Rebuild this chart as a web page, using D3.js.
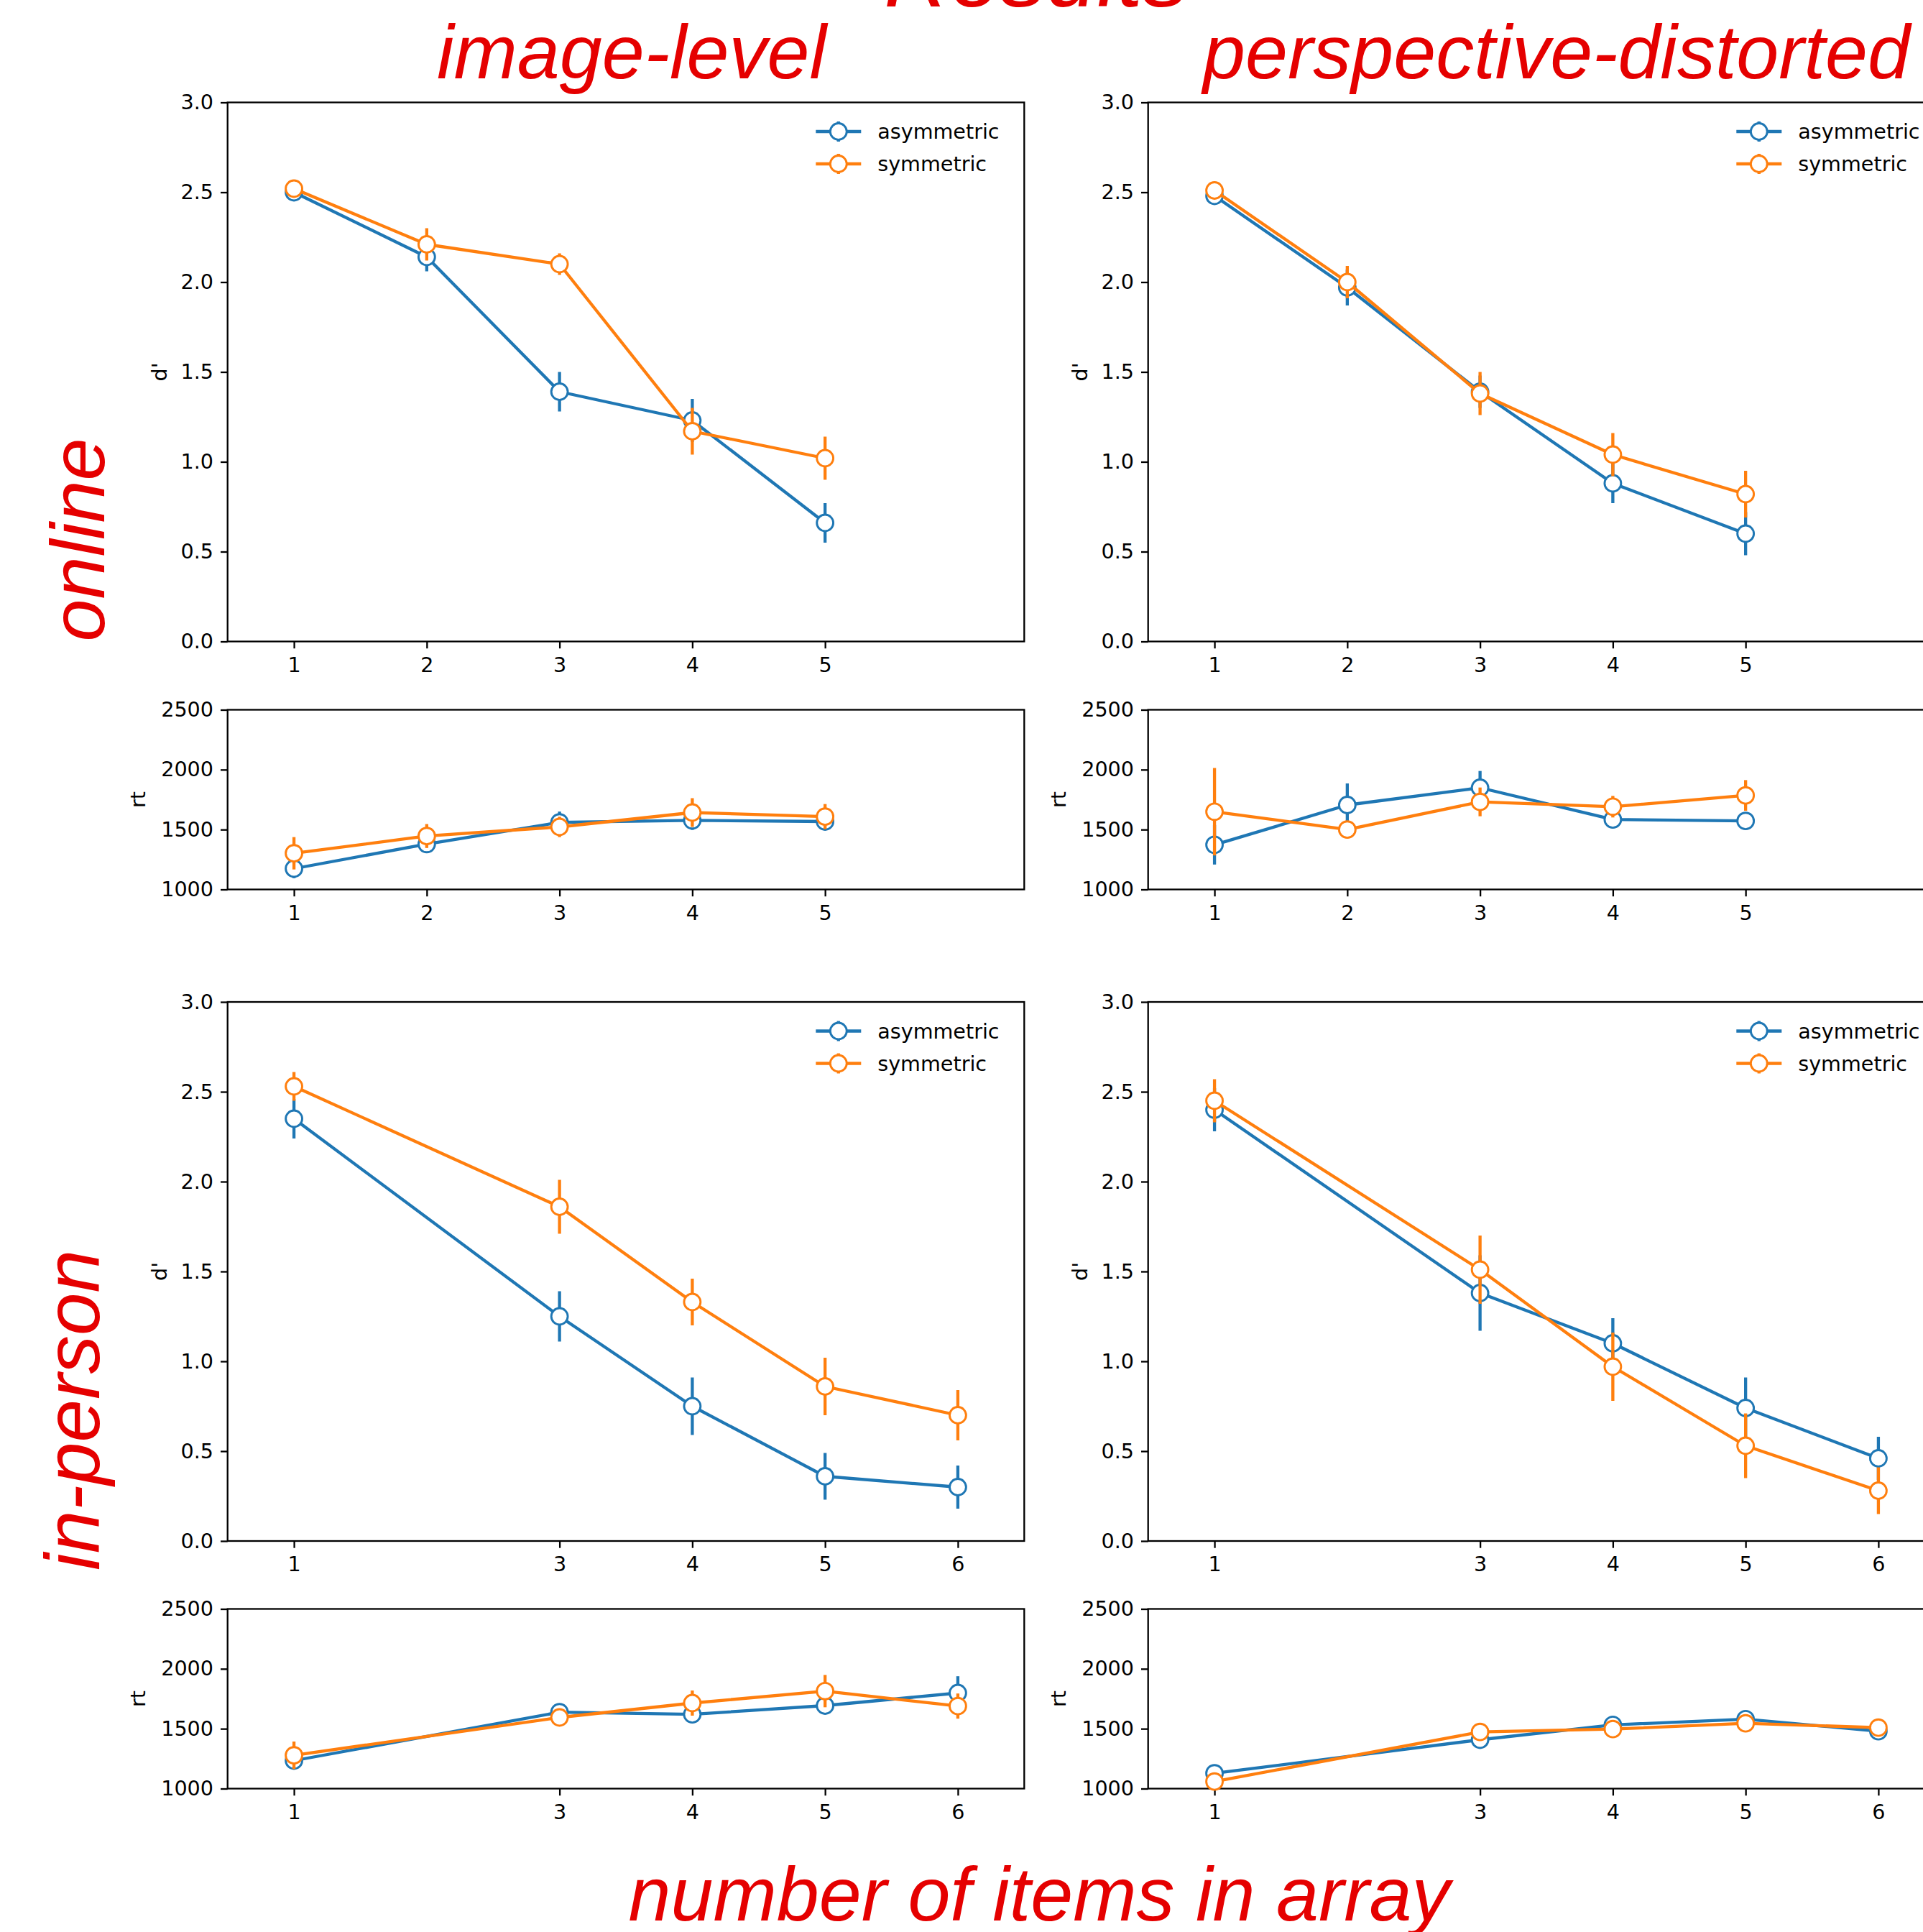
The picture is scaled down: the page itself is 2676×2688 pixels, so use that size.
<!DOCTYPE html>
<html lang="en">
<head>
<meta charset="UTF-8">
<title>Results</title>
<script src="https://cdn.jsdelivr.net/npm/d3@7"></script>
<style>
  body { margin: 0; background: #fff; }
  svg { display: block; }
  .tick text { font-family: "DejaVu Sans", sans-serif; }
</style>
</head>
<body>
<script>
// categories
var nOnline = [1, 2, 3, 4, 5];
var nInPerson = [1, 3, 4, 5, 6];
var seriesNames = ["asymmetric", "symmetric"];
var dTicks = [0, 0.5, 1, 1.5, 2, 2.5, 3];
var rtTicks = [1000, 1500, 2000, 2500];

// online / image-level
var dImgOnAsym = [2.50, 2.14, 1.39, 1.23, 0.66];
var dImgOnAsymErr = [0.04, 0.08, 0.11, 0.12, 0.11];
var dImgOnSym = [2.52, 2.21, 2.10, 1.17, 1.02];
var dImgOnSymErr = [0.03, 0.09, 0.06, 0.13, 0.12];
var rtImgOnAsym = [1174, 1379, 1560, 1577, 1567];
var rtImgOnAsymErr = [80, 70, 90, 80, 70];
var rtImgOnSym = [1302, 1446, 1522, 1642, 1608];
var rtImgOnSymErr = [135, 100, 85, 120, 105];

// online / perspective-distorted
var dPerOnAsym = [2.48, 1.97, 1.39, 0.88, 0.60];
var dPerOnAsymErr = [0.04, 0.10, 0.09, 0.11, 0.12];
var dPerOnSym = [2.51, 2.00, 1.38, 1.04, 0.82];
var dPerOnSymErr = [0.03, 0.09, 0.12, 0.12, 0.13];
var rtPerOnAsym = [1373, 1705, 1849, 1584, 1572];
var rtPerOnAsymErr = [165, 180, 140, 30, 30];
var rtPerOnSym = [1649, 1500, 1731, 1691, 1785];
var rtPerOnSymErr = [365, 30, 120, 90, 128];

// in-person / image-level
var dImgInAsym = [2.35, 1.25, 0.75, 0.36, 0.30];
var dImgInAsymErr = [0.11, 0.14, 0.16, 0.13, 0.12];
var dImgInSym = [2.53, 1.86, 1.33, 0.86, 0.70];
var dImgInSymErr = [0.08, 0.15, 0.13, 0.16, 0.14];
var rtImgInAsym = [1234, 1638, 1620, 1693, 1798];
var rtImgInAsymErr = [45, 45, 40, 45, 140];
var rtImgInSym = [1278, 1594, 1714, 1814, 1689];
var rtImgInSymErr = [115, 45, 105, 135, 105];

// in-person / perspective-distorted
var dPerInAsym = [2.40, 1.38, 1.10, 0.74, 0.46];
var dPerInAsymErr = [0.12, 0.21, 0.14, 0.17, 0.12];
var dPerInSym = [2.45, 1.51, 0.97, 0.53, 0.28];
var dPerInSymErr = [0.12, 0.19, 0.19, 0.18, 0.13];
var rtPerInAsym = [1128, 1408, 1532, 1580, 1479];
var rtPerInAsymErr = [30, 40, 70, 35, 30];
var rtPerInSym = [1059, 1473, 1497, 1545, 1509];
var rtPerInSymErr = [30, 35, 45, 40, 30];

var colors = ["#1f77b4", "#ff7f0e"];
var red = "#e50000";

var nw = 2676, nh = 2688;
var colLeft = [316.7, 1597.7];
var pw = 1108.6;
var rowTop = { d0: 142.5, rt0: 987.5, d1: 1394, rt1: 2238.5 };

var svg = d3.select("body").append("svg")
    .attr("width", nw)
    .attr("height", nh);

function pack(ns, vals, errs) {
    return ns.map(function (n, i) { return { n: n, v: vals[i], e: errs[i] }; });
}

var panels = [
    { col: 0, top: rowTop.d0, kind: "d", ns: nOnline,
      s: [[dImgOnAsym, dImgOnAsymErr], [dImgOnSym, dImgOnSymErr]] },
    { col: 0, top: rowTop.rt0, kind: "rt", ns: nOnline,
      s: [[rtImgOnAsym, rtImgOnAsymErr], [rtImgOnSym, rtImgOnSymErr]] },
    { col: 1, top: rowTop.d0, kind: "d", ns: nOnline,
      s: [[dPerOnAsym, dPerOnAsymErr], [dPerOnSym, dPerOnSymErr]] },
    { col: 1, top: rowTop.rt0, kind: "rt", ns: nOnline,
      s: [[rtPerOnAsym, rtPerOnAsymErr], [rtPerOnSym, rtPerOnSymErr]] },
    { col: 0, top: rowTop.d1, kind: "d", ns: nInPerson,
      s: [[dImgInAsym, dImgInAsymErr], [dImgInSym, dImgInSymErr]] },
    { col: 0, top: rowTop.rt1, kind: "rt", ns: nInPerson,
      s: [[rtImgInAsym, rtImgInAsymErr], [rtImgInSym, rtImgInSymErr]] },
    { col: 1, top: rowTop.d1, kind: "d", ns: nInPerson,
      s: [[dPerInAsym, dPerInAsymErr], [dPerInSym, dPerInSymErr]] },
    { col: 1, top: rowTop.rt1, kind: "rt", ns: nInPerson,
      s: [[rtPerInAsym, rtPerInAsymErr], [rtPerInSym, rtPerInSymErr]] }
];

var fontSize = 28.6, lw = 4.3, spineW = 2.3, tickLen = 9.7, markR = 11.45, markW = 2.9;

panels.forEach(function (p) {
    var h = p.kind === "d" ? 750 : 250;
    var x = d3.scaleLinear().domain([0.5, 6.5]).range([0, pw]);
    var y = p.kind === "d"
        ? d3.scaleLinear().domain([0, 3]).range([h, 0])
        : d3.scaleLinear().domain([1000, 2500]).range([h, 0]);

    var g = svg.append("g")
        .attr("transform", "translate(" + colLeft[p.col] + "," + p.top + ")");

    // axes
    var xaxis = d3.axisBottom(x).tickValues(p.ns).tickFormat(d3.format("d"))
        .tickSize(tickLen).tickSizeOuter(0).tickPadding(12);
    var yaxis = d3.axisLeft(y)
        .tickValues(p.kind === "d" ? dTicks : rtTicks)
        .tickFormat(p.kind === "d" ? d3.format(".1f") : d3.format("d"))
        .tickSize(tickLen).tickSizeOuter(0).tickPadding(10);

    [g.append("g").attr("transform", "translate(0," + h + ")").call(xaxis),
     g.append("g").call(yaxis)].forEach(function (ax) {
        ax.select(".domain").remove();
        ax.selectAll(".tick line").attr("stroke", "#000").attr("stroke-width", spineW);
        ax.selectAll(".tick text").attr("fill", "#000").style("font-size", fontSize + "px");
    });

    g.append("rect")
        .attr("width", pw).attr("height", h)
        .attr("fill", "none").attr("stroke", "#000").attr("stroke-width", spineW);

    // y label
    g.append("text")
        .attr("transform", "translate(" + (p.kind === "d" ? -85 : -114.7) + "," + (h / 2) + ") rotate(-90)")
        .attr("text-anchor", "middle")
        .style("font-family", "DejaVu Sans")
        .style("font-size", fontSize + "px")
        .text(p.kind === "d" ? "d'" : "rt");

    var line = d3.line().x(function (d) { return x(d.n); }).y(function (d) { return y(d.v); });

    p.s.forEach(function (ser, si) {
        var pts = pack(p.ns, ser[0], ser[1]);
        var sg = g.append("g");
        sg.selectAll("line.err").data(pts).enter().append("line")
            .attr("class", "err")
            .attr("x1", function (d) { return x(d.n); })
            .attr("x2", function (d) { return x(d.n); })
            .attr("y1", function (d) { return y(d.v - d.e); })
            .attr("y2", function (d) { return y(d.v + d.e); })
            .attr("stroke", colors[si]).attr("stroke-width", lw);
        sg.append("path").datum(pts)
            .attr("d", line)
            .attr("fill", "none").attr("stroke", colors[si]).attr("stroke-width", lw)
            .attr("stroke-linejoin", "round");
        sg.selectAll("circle").data(pts).enter().append("circle")
            .attr("cx", function (d) { return x(d.n); })
            .attr("cy", function (d) { return y(d.v); })
            .attr("r", markR)
            .attr("fill", "#fff").attr("stroke", colors[si]).attr("stroke-width", markW);
    });

    // legend
    if (p.kind === "d") {
        var lg = g.append("g").attr("transform", "translate(" + (pw - 290) + ",40.5)");
        seriesNames.forEach(function (name, si) {
            var row = lg.append("g").attr("transform", "translate(0," + (si * 45) + ")");
            row.append("line").attr("x1", 0).attr("x2", 63).attr("y1", 0).attr("y2", 0)
                .attr("stroke", colors[si]).attr("stroke-width", lw);
            row.append("line").attr("x1", 31.5).attr("x2", 31.5).attr("y1", -14).attr("y2", 14)
                .attr("stroke", colors[si]).attr("stroke-width", lw);
            row.append("circle").attr("cx", 31.5).attr("cy", 0).attr("r", markR)
                .attr("fill", "#fff").attr("stroke", colors[si]).attr("stroke-width", markW);
            row.append("text").attr("x", 86).attr("y", 0).attr("dy", "0.35em")
                .style("font-family", "DejaVu Sans").style("font-size", fontSize + "px")
                .text(name);
        });
    }
});

// big red labels
function bigText(txt, tx, ty, rot, size) {
    svg.append("text")
        .attr("transform", "translate(" + tx + "," + ty + ")" + (rot ? " rotate(" + rot + ")" : ""))
        .attr("text-anchor", "middle")
        .style("font-family", "Liberation Sans, Arial, sans-serif")
        .style("font-style", "italic")
        .style("font-size", size + "px")
        .attr("fill", red)
        .text(txt);
}
bigText("Results", 1442, 9, 0, 127);
bigText("image-level", 879, 109, 0, 106);
bigText("perspective-distorted", 2166, 109, 0, 106);
bigText("online", 145, 751, -90, 106);
bigText("in-person", 138, 1962, -90, 107);
bigText("number of items in array", 1446, 2672, 0, 106);
</script>
</body>
</html>
